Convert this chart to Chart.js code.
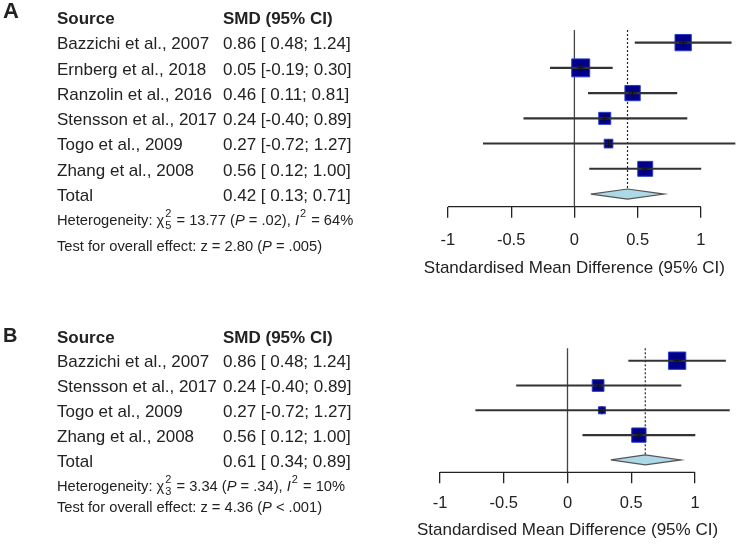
<!DOCTYPE html>
<html>
<head>
<meta charset="utf-8">
<script src="https://cdn.jsdelivr.net/npm/chart.js@4.4.1/dist/chart.umd.min.js"></script>
<style>
  html, body { margin: 0; padding: 0; background: #fff; }
  #wrap { position: relative; width: 750px; height: 545px; overflow: hidden; }
  canvas { position: absolute; left: 0; }
  #chartA { top: 0; }
  #chartB { top: 285px; }
</style>
</head>
<body>
<div id="wrap">
  <canvas id="chartA" width="750" height="285"></canvas>
  <canvas id="chartB" width="750" height="260"></canvas>
</div>
<script>
// ---- Panel A data ----
const studiesA = ['Bazzichi et al., 2007', 'Ernberg et al., 2018', 'Ranzolin et al., 2016',
                  'Stensson et al., 2017', 'Togo et al., 2009', 'Zhang et al., 2008'];
const smdA = [0.86, 0.05, 0.46, 0.24, 0.27, 0.56];
const lowerA = [0.48, -0.19, 0.11, -0.40, -0.72, 0.12];
const upperA = [1.24, 0.30, 0.81, 0.89, 1.27, 1.00];
const weightsA = [21.0, 25.5, 18.5, 11.4, 6.0, 17.6];   // % weight
const totalA = [0.42, 0.13, 0.71];                       // estimate, lower, upper
const hetA = { chi2: '13.77', df: '5', p: '= .02', i2: '64' };
const testA = { z: '2.80', p: '= .005' };

// ---- Panel B data ----
const studiesB = ['Bazzichi et al., 2007', 'Stensson et al., 2017', 'Togo et al., 2009', 'Zhang et al., 2008'];
const smdB = [0.86, 0.24, 0.27, 0.56];
const lowerB = [0.48, -0.40, -0.72, 0.12];
const upperB = [1.24, 0.89, 1.27, 1.00];
const weightsB = [43.4, 19.9, 7.1, 29.6];
const totalB = [0.61, 0.34, 0.89];
const hetB = { chi2: '3.34', df: '3', p: '= .34', i2: '10' };
const testB = { z: '4.36', p: '< .001' };

const xTicks = [-1, -0.5, 0, 0.5, 1];

const FONT = "'Liberation Sans', Arial, sans-serif";
const INK = '#222';
const DH = 0.2; // diamond half height, in rows

function fmtCI(est, lo, hi) {
  return est.toFixed(2) + ' [' + (lo < 0 ? '' : ' ') + lo.toFixed(2) + '; ' + hi.toFixed(2) + ']';
}

// draw a line of text made of runs (plain / italic / sup+sub)
function drawRuns(ctx, runs, x, y, size) {
  runs.forEach(r => {
    if (r.sup || r.sub) {
      ctx.font = Math.round(size * 0.72) + 'px ' + FONT;
      let w = 0;
      if (r.sup) { ctx.fillText(r.sup, x + 1, y - 7); w = ctx.measureText(r.sup).width; }
      if (r.sub) { ctx.fillText(r.sub, x + 1, y + 5); w = Math.max(w, ctx.measureText(r.sub).width); }
      x += w + 2;
    } else {
      ctx.font = (r.i ? 'italic ' : '') + size + 'px ' + FONT;
      ctx.fillText(r.t, x, y);
      x += ctx.measureText(r.t).width;
    }
  });
}

// left-hand table, positioned on the chart's own row scale
const forestText = {
  id: 'forestText',
  afterDraw(chart, args, opts) {
    const ctx = chart.ctx;
    const ys = chart.scales.y;
    const yAt = r => ys.getPixelForValue(r) + 2;
    const p = opts.panel;
    const n = p.studies.length;
    ctx.save();
    ctx.fillStyle = INK;
    ctx.textBaseline = 'middle';
    ctx.textAlign = 'left';

    ctx.font = 'bold ' + opts.letterSize + 'px ' + FONT;
    ctx.fillText(opts.letter, 3, opts.letterY);

    ctx.font = 'bold 17px ' + FONT;
    ctx.fillText('Source', 57, yAt(0));
    ctx.fillText('SMD (95% CI)', 223, yAt(0));

    ctx.font = '17px ' + FONT;
    p.studies.forEach((s, i) => {
      ctx.fillText(s, 57, yAt(i + 1));
      ctx.fillText(fmtCI(p.smd[i], p.lower[i], p.upper[i]), 223, yAt(i + 1));
    });
    ctx.fillText('Total', 57, yAt(n + 1));
    ctx.fillText(fmtCI(p.total[0], p.total[1], p.total[2]), 223, yAt(n + 1));

    drawRuns(ctx, [
      { t: 'Heterogeneity: ' }, { t: 'χ' }, { sup: '2', sub: p.het.df },
      { t: ' = ' + p.het.chi2 + ' (' }, { t: 'P', i: true }, { t: ' ' + p.het.p + '), ' },
      { t: 'I', i: true }, { sup: '2' }, { t: ' = ' + p.het.i2 + '%' }
    ], 57, yAt(opts.hetRow), 14.7);
    drawRuns(ctx, [
      { t: 'Test for overall effect: z = ' + p.test.z + ' (' }, { t: 'P', i: true }, { t: ' ' + p.test.p + ')' }
    ], 57, yAt(opts.testRow), 14.7);
    ctx.restore();
  }
};

function buildForest(id, p, lay) {
  const n = p.studies.length;
  const totalRow = n + 1;
  const rows = p.studies.map((s, i) => i + 1);
  const lineDs = (data, color, width, dash) => ({
    type: 'line', data, borderColor: color, borderWidth: width, borderDash: dash || [],
    pointRadius: 0, fill: false, tension: 0, clip: false
  });

  new Chart(document.getElementById(id), {
    type: 'scatter',
    data: {
      datasets: [
        // centre crosses
        { type: 'scatter', data: p.smd.map((v, i) => ({ x: v, y: rows[i] })),
          pointStyle: 'cross', pointRadius: 4, borderColor: '#111', borderWidth: 1, backgroundColor: '#111' },
        // confidence intervals
        { type: 'bar', indexAxis: 'y', data: p.lower.map((lo, i) => ({ x: [lo, p.upper[i]], y: rows[i] })),
          backgroundColor: '#333', borderWidth: 0, barThickness: 1.4 },
        // weighted boxes
        { type: 'scatter', data: p.smd.map((v, i) => ({ x: v, y: rows[i] })),
          pointStyle: 'rect', pointRadius: p.weights.map(w => lay.box * Math.sqrt(w) / Math.SQRT2),
          backgroundColor: '#00008B', borderColor: '#2a3cc8', borderWidth: 1 },
        // pooled diamond
        Object.assign(lineDs([
          { x: p.total[1], y: totalRow }, { x: p.total[0], y: totalRow - DH },
          { x: p.total[2], y: totalRow }, { x: p.total[0], y: totalRow + DH },
          { x: p.total[1], y: totalRow }
        ], '#555', 1.2), { fill: 'shape', backgroundColor: '#ADD8E6' }),
        // pooled estimate (dotted)
        lineDs([{ x: p.total[0], y: 0.5 }, { x: p.total[0], y: totalRow - DH }], '#222', 1.2, [2, 2]),
        // no-effect line
        lineDs([{ x: 0, y: 0.5 }, { x: 0, y: totalRow + 0.5 }], '#444', 1.3),
        // x axis line, only across the tick range
        lineDs([{ x: xTicks[0], y: totalRow + 0.5 }, { x: xTicks[xTicks.length - 1], y: totalRow + 0.5 }], '#222', 1.3)
      ]
    },
    options: {
      responsive: false,
      animation: false,
      events: [],
      layout: { padding: { left: lay.left, right: lay.right, top: lay.top, bottom: lay.bottom } },
      plugins: {
        legend: { display: false },
        tooltip: { enabled: false },
        forestText: { panel: p, letter: lay.letter, letterY: lay.letterY, letterSize: lay.letterSize,
                      hetRow: lay.hetRow, testRow: lay.testRow }
      },
      scales: {
        x: {
          type: 'linear', min: -lay.xHalf, max: lay.xHalf, offset: false,
          afterBuildTicks: s => { s.ticks = xTicks.map(v => ({ value: v })); },
          grid: { drawOnChartArea: false, drawTicks: true, tickLength: 11, color: '#222', lineWidth: 1.3 },
          border: { display: false },
          ticks: { padding: lay.tickPad, color: INK, font: { family: FONT, size: 16.5 }, maxRotation: 0,
                   callback: v => String(v) },
          title: { display: true, text: 'Standardised Mean Difference (95% CI)', color: INK,
                   font: { family: FONT, size: 17 }, padding: { top: lay.titlePad, bottom: 2 } }
        },
        y: { type: 'linear', min: 0.5, max: totalRow + 0.5, reverse: true, offset: false, display: false }
      }
    },
    plugins: [forestText]
  });
}

buildForest('chartA',
  { studies: studiesA, smd: smdA, lower: lowerA, upper: upperA, weights: weightsA,
    total: totalA, het: hetA, test: testA },
  { left: 412.5, right: 2.1, top: 30, bottom: 4.8, xHalf: 1.28, tickPad: 12.4, titlePad: -4.5,
    box: 3.56, letter: 'A', letterY: 12, letterSize: 22, hetRow: 8, testRow: 9 });

buildForest('chartB',
  { studies: studiesB, smd: smdB, lower: lowerB, upper: upperB, weights: weightsB,
    total: totalB, het: hetB, test: testB },
  { left: 400, right: 15, top: 63.3, bottom: 2.8, xHalf: 1.314, tickPad: 10.1, titlePad: -3.5,
    box: 2.63, letter: 'B', letterY: 51.3, letterSize: 20, hetRow: 6, testRow: 6.85 });
</script>
</body>
</html>
